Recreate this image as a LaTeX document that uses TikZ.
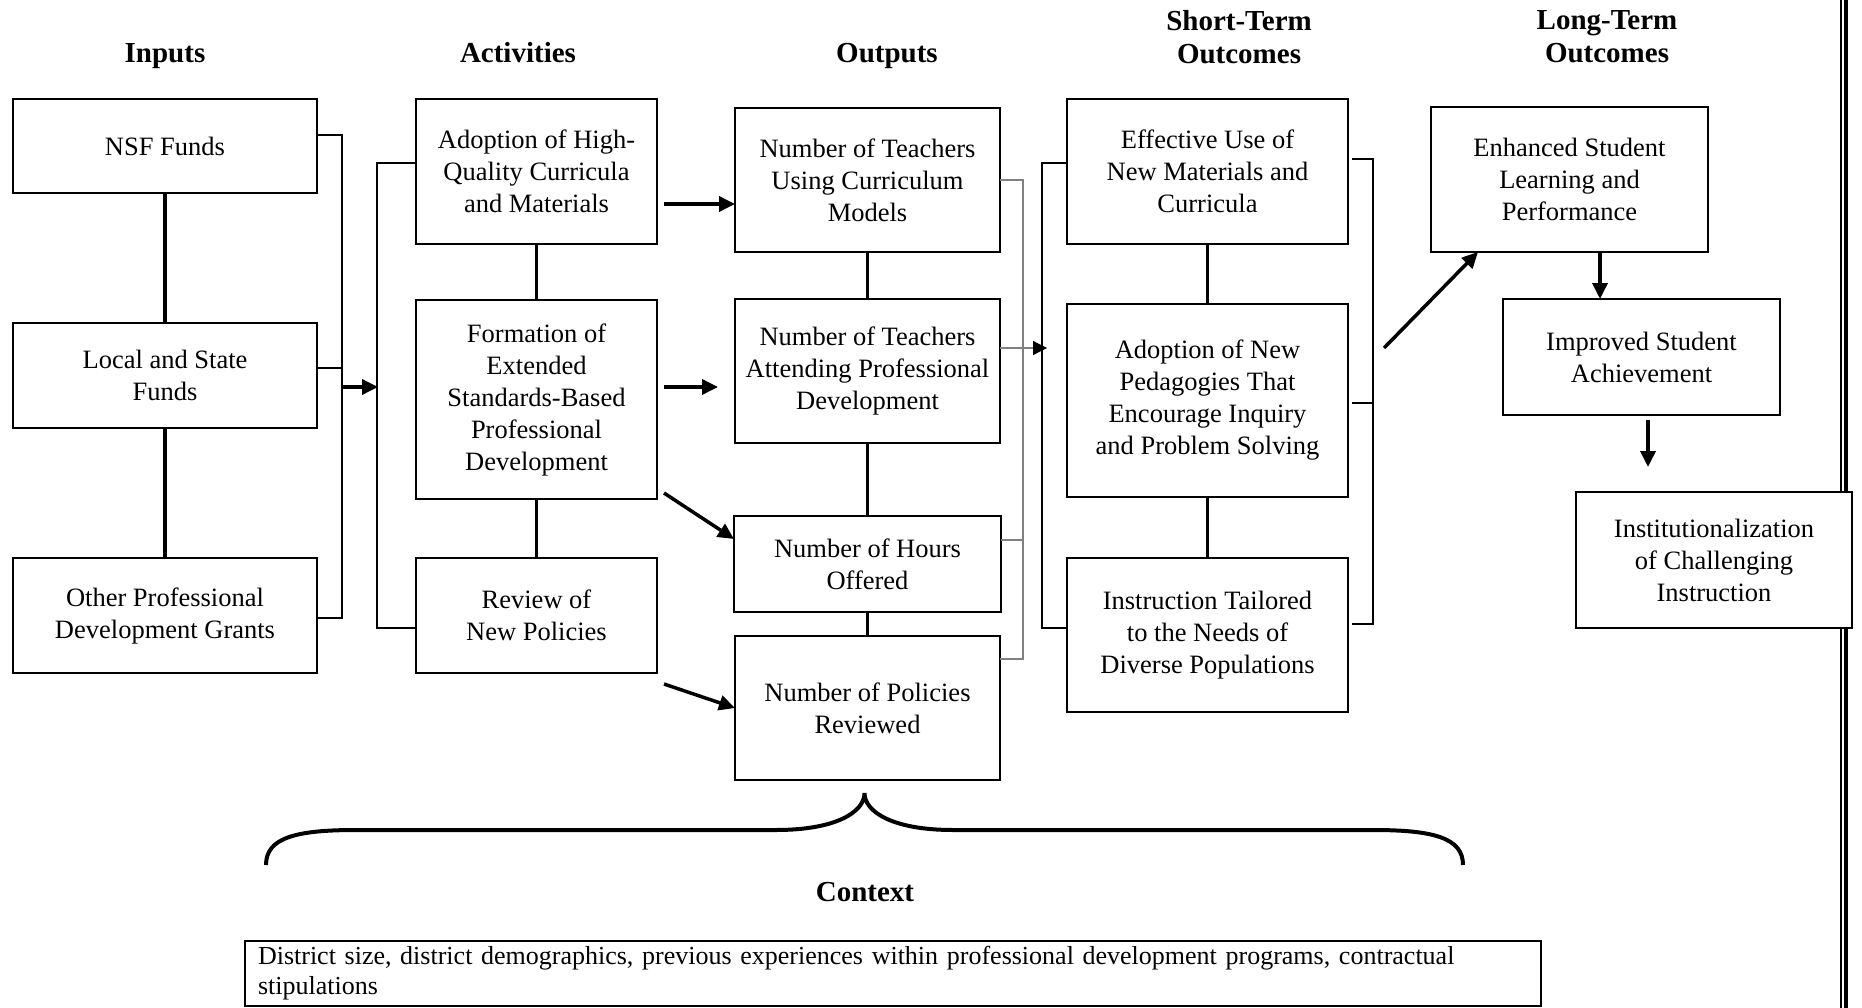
\documentclass[tikz,border=0pt]{standalone}
\usepackage{fontspec}
\setmainfont{Liberation Serif}
\usepackage{tikz}
\usetikzlibrary{arrows.meta}
\tikzstyle{block} = [rectangle, draw, line width=2.8pt, fill=white, align=center, inner sep=4pt, outer sep=0pt, font=\fontsize{26.5}{32}\selectfont]
\tikzstyle{title} = [align=center, font=\fontsize{29}{33}\selectfont\bfseries]
\tikzstyle{link} = [line width=3.5pt]
\tikzstyle{bus} = [line width=2.6pt]
\tikzstyle{thinbus} = [line width=1.2pt, draw=gray]
\tikzstyle{arrow} = [line width=3.5pt,-{Triangle[length=16pt,width=15pt]}]

\begin{document}
\begin{tikzpicture}[x=1pt, y=-1pt]
    \useasboundingbox (0,0) rectangle (1862,1008);
    \draw[line width=2pt] (1841,0) -- (1841,1008);
    \draw[line width=4pt] (1846,0) -- (1846,1008);

    \node (tin) [title, anchor=base] at (165,63) {Inputs};
    \node (tact) [title, anchor=base] at (518,63) {Activities};
    \node (tout) [title, anchor=base] at (887,63) {Outputs};
    \node (tshort) [title] at (1239,37.5) {Short-Term\\Outcomes};
    \node (tlong) [title] at (1607,37) {Long-Term\\Outcomes};

    \node (nsf) [block, minimum width=304, minimum height=94] at (165,146) {NSF Funds};
    \node (local) [block, minimum width=304, minimum height=105] at (165,375.5) {Local and State\\Funds};
    \node (other) [block, minimum width=304, minimum height=115] at (165,615.5) {Other Professional\\Development Grants};

    \node (adopt) [block, minimum width=241, minimum height=145] at (536.5,171.5) {Adoption of High-\\Quality Curricula\\and Materials};
    \node (form) [block, minimum width=241, minimum height=199] at (536.5,399.5) {Formation of\\Extended\\Standards-Based\\Professional\\Development};
    \node (review) [block, minimum width=241, minimum height=115] at (536.5,615.5) {Review of\\New Policies};

    \node (using) [block, minimum width=265, minimum height=144] at (867.5,180) {Number of Teachers\\Using Curriculum\\Models};
    \node (attend) [block, minimum width=265, minimum height=144] at (867.5,371) {Number of Teachers\\Attending Professional\\Development};
    \node (hours) [block, minimum width=267, minimum height=96] at (867.5,564) {Number of Hours\\Offered};
    \node (policies) [block, minimum width=265, minimum height=144] at (867.5,708) {Number of Policies\\Reviewed};

    \node (effective) [block, minimum width=281, minimum height=145] at (1207.5,171.5) {Effective Use of\\New Materials and\\Curricula};
    \node (pedagog) [block, minimum width=281, minimum height=193] at (1207.5,400.5) {Adoption of New\\Pedagogies That\\Encourage Inquiry\\and Problem Solving};
    \node (tailored) [block, minimum width=281, minimum height=154] at (1207.5,635) {Instruction Tailored\\to the Needs of\\Diverse Populations};

    \node (enhanced) [block, minimum width=277, minimum height=145] at (1569.5,179.5) {Enhanced Student\\Learning and\\Performance};
    \node (improved) [block, minimum width=277, minimum height=116] at (1641.5,357) {Improved Student\\Achievement};
    \node (inst) [block, minimum width=276, minimum height=136] at (1714,560) {Institutionalization\\of Challenging\\Instruction};

    \path[link] (nsf) edge (local)
                (local) edge (other)
                (adopt) edge (form)
                (form) edge (review)
                (using) edge (attend)
                (attend) edge (hours)
                (hours) edge (policies)
                (effective) edge (pedagog)
                (pedagog) edge (tailored);

    \draw[bus] ([yshift=11pt]nsf.east) -- (342,135) -- (342,618) -- ([yshift=-2.5pt]other.east);
    \draw[bus] ([yshift=7.5pt]local.east) -- (342,368);
    \draw[arrow] (342,387) -- (378,387);

    \draw[bus] ([yshift=8.5pt]adopt.west) -- (377,163) -- (377,628) -- ([yshift=-12.5pt]review.west);

    \draw[arrow] ([xshift=7pt,yshift=-32.5pt]adopt.east) -- ([yshift=-24pt]using.west);
    \draw[arrow] ([xshift=7pt,yshift=12.5pt]form.east) -- ([xshift=-17pt,yshift=-16pt]attend.west);
    \draw[arrow] ([xshift=7pt,yshift=6pt]form.south east) -- ([yshift=25pt]hours.west);
    \draw[arrow] ([xshift=7pt,yshift=-11pt]review.south east) -- (policies.west);

    \draw[thinbus] (using.east) -- (1023,180) -- (1023,659) -- ([yshift=49pt]policies.east);
    \draw[thinbus] ([yshift=23pt]attend.east) -- (1023,348);
    \draw[thinbus] ([yshift=24pt]hours.east) -- (1023,540);
    \draw[thinbus, -{Triangle[length=14pt,width=14pt,black]}] (1023,348) -- (1047,348);

    \draw[bus] ([yshift=8.5pt]effective.west) -- (1042,163) -- (1042,628) -- ([yshift=7pt]tailored.west);
    \draw[bus] ([xshift=4pt,yshift=12.5pt]effective.east) -- (1373,159) -- (1373,624) -- ([xshift=4pt,yshift=11pt]tailored.east);
    \draw[bus] ([xshift=4pt,yshift=-2.5pt]pedagog.east) -- (1373,403);

    \draw[arrow] (1384,348) -- ([xshift=-91.5pt]enhanced.south);
    \draw[arrow] ([xshift=30.5pt]enhanced.south) -- ([xshift=-41.5pt]improved.north);
    \draw[arrow] ([xshift=6.5pt,yshift=-5pt]improved.south) -- ([xshift=-66pt,yshift=25pt]inst.north);

    \draw[line width=4pt] (266,865) .. controls (266,838) and (295,830) .. (356,830) -- (776,830)
        .. controls (836,830) and (864.5,812) .. (864.5,793)
        .. controls (864.5,812) and (893,830) .. (953,830) -- (1373,830)
        .. controls (1434,830) and (1463,838) .. (1463,865);
    \node (ctx) [title, anchor=base] at (865,901.5) {Context};
    \node (cbox) [draw, line width=2.2pt, minimum width=1296, minimum height=65, text width=1270, align=left, inner xsep=13pt, inner ysep=2pt, font=\fontsize{26}{30}\selectfont] at (893,973.5) {District size, district demographics, previous experiences within professional development programs, contractual\\stipulations};
\end{tikzpicture}
\end{document}
